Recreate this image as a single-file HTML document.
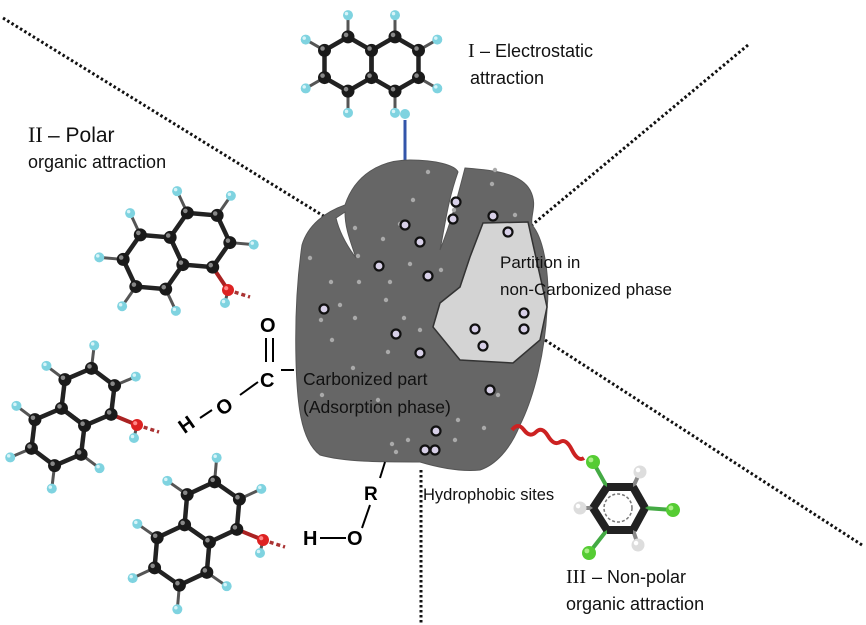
<!DOCTYPE html>
<html><head><meta charset="utf-8"><style>
html,body{margin:0;padding:0;background:#fff;}
svg{display:block;}
.t{font-family:"Liberation Sans",sans-serif;fill:#111;}
.r{font-family:"Liberation Serif",serif;fill:#111;}
.b{font-family:"Liberation Sans",sans-serif;font-weight:bold;fill:#000;}
</style></head><body>
<svg id="s" width="866" height="625" viewBox="0 0 866 625" xmlns="http://www.w3.org/2000/svg">
<g stroke="#111" stroke-width="3" stroke-dasharray="2.5 2.5" fill="none">
<line x1="3" y1="18" x2="330" y2="220"/>
<line x1="748" y1="45" x2="532" y2="225"/>
<line x1="545" y1="340" x2="862" y2="545"/>
<line x1="421" y1="470" x2="421" y2="625"/>
</g>
<line x1="405" y1="120" x2="405" y2="162" stroke="#3355aa" stroke-width="3"/>
<path d="M345,205 C355,175 380,160 410,160 C435,160 455,165 458,172 C448,200 445,225 440,250 C452,220 458,195 465,168 C490,170 520,172 530,190 C538,205 530,215 532,225 C545,240 550,280 547,310 C545,350 535,395 520,425 C510,450 495,465 480,470 C460,472 440,468 420,462 C380,462 345,462 320,455 C300,440 297,400 296,360 C295,320 297,280 302,245 C308,225 325,212 345,205 Z M336,218 C340,235 350,250 356,258 C350,240 345,228 345,212 Z" fill="#666" fill-rule="evenodd" stroke="#555" stroke-width="1"/>
<path d="M483,223 L528,222 L547,307 L540,340 L513,363 L460,360 L433,327 L440,303 L460,287 L470,257 Z" fill="#d4d4d4" stroke="#333" stroke-width="1.5"/>
<g id="dots" fill="#aaa"></g>
<g id="rings" fill="#d8d0e8" stroke="#111" stroke-width="2.2"></g>
<path d="M512,430 q6,-8 12,0 t12,2 t12,4 t12,6 t12,8 t12,8" fill="none" stroke="#cc2222" stroke-width="4"/>
<g id="mol"></g>
<text class="r" x="468" y="57" font-size="20">I</text><text class="t" x="480" y="57" font-size="18">– Electrostatic</text>
<text class="t" x="470" y="84" font-size="18">attraction</text>
<text class="r" x="28" y="142" font-size="22">II</text><text class="t" x="48" y="142" font-size="21">– Polar</text>
<text class="t" x="28" y="168" font-size="18">organic attraction</text>
<text class="t" x="500" y="268" font-size="17">Partition in</text>
<text class="t" x="500" y="295" font-size="17">non-Carbonized phase</text>
<text class="t" x="303" y="385" font-size="17.5">Carbonized part</text>
<text class="t" x="303" y="413" font-size="17.5">(Adsorption phase)</text>
<text class="t" x="423" y="500" font-size="16.5">Hydrophobic sites</text>
<text class="r" x="566" y="583" font-size="20">III</text><text class="t" x="592" y="583" font-size="18">– Non-polar</text>
<text class="t" x="566" y="610" font-size="18">organic attraction</text>
<text class="b" x="260" y="332" font-size="20">O</text>
<line x1="266" y1="338" x2="266" y2="362" stroke="#000" stroke-width="2"/>
<line x1="273" y1="338" x2="273" y2="362" stroke="#000" stroke-width="2"/>
<text class="b" x="260" y="387" font-size="20">C</text>
<line x1="281" y1="370" x2="294" y2="370" stroke="#000" stroke-width="2"/>
<line x1="240" y1="395" x2="258" y2="382" stroke="#000" stroke-width="2"/>
<text class="b" x="216" y="412" font-size="20" transform="rotate(-35 226 405)">O</text>
<line x1="200" y1="418" x2="212" y2="410" stroke="#000" stroke-width="2"/>
<text class="b" x="178" y="430" font-size="20" transform="rotate(-35 188 422)">H</text>
<line x1="385" y1="462" x2="380" y2="478" stroke="#000" stroke-width="2"/>
<text class="b" x="364" y="500" font-size="19">R</text>
<line x1="370" y1="505" x2="362" y2="528" stroke="#000" stroke-width="2"/>
<text class="b" x="347" y="545" font-size="20">O</text>
<line x1="320" y1="538" x2="346" y2="538" stroke="#000" stroke-width="2"/>
<text class="b" x="303" y="545" font-size="20">H</text>
</svg>
<script>
var NS="http://www.w3.org/2000/svg";
function el(p,t,a){var e=document.createElementNS(NS,t);for(var k in a)e.setAttribute(k,a[k]);p.appendChild(e);return e;}
var mol=document.getElementById('mol');
function atom(x,y,r,c,hl){el(mol,'circle',{cx:x,cy:y,r:r,fill:c});el(mol,'circle',{cx:x-r*0.3,cy:y-r*0.3,r:r*0.35,fill:hl});}
function naph(c1,c2,oh){
 var dx=c2[0]-c1[0],dy=c2[1]-c1[1],d=Math.hypot(dx,dy),R=d/Math.sqrt(3),a0=Math.atan2(dy,dx);
 var verts=[],bonds=[];
 [c1,c2].forEach(function(c,i){
  var base=i==0?a0:a0+Math.PI,vs=[];
  for(var k=0;k<6;k++){var a=base+Math.PI/6+k*Math.PI/3;vs.push([c[0]+R*Math.cos(a),c[1]+R*Math.sin(a),c]);}
  for(var k=0;k<6;k++)bonds.push([vs[k],vs[(k+1)%6]]);
  vs.forEach(function(v,k){ if(i==1&&(k==0||k==5))return; verts.push(v);});
 });
 var ohIdx=-1,best=1e9;
 if(oh)verts.forEach(function(v,i){var q=Math.hypot(v[0]-oh[0],v[1]-oh[1]);if(q<best){best=q;ohIdx=i;}});
 var hs=[];
 verts.forEach(function(v,i){
  var cx=v[2][0],cy=v[2][1],ux=v[0]-cx,uy=v[1]-cy,l=Math.hypot(ux,uy);
  var shared=Math.hypot(v[0]-(c1[0]+c2[0])/2,v[1]-(c1[1]+c2[1])/2)<R*0.6;
  if(shared)return;
  if(i==ohIdx){hs.push(['o',v]);return;}
  hs.push(['h',v,[v[0]+ux/l*R*0.8,v[1]+uy/l*R*0.8]]);
 });
 hs.forEach(function(h){ if(h[0]=='h'){el(mol,'line',{x1:h[1][0],y1:h[1][1],x2:h[2][0],y2:h[2][1],stroke:'#555','stroke-width':3});}});
 bonds.forEach(function(b){el(mol,'line',{x1:b[0][0],y1:b[0][1],x2:b[1][0],y2:b[1][1],stroke:'#222','stroke-width':4.5});});
 if(oh){var v=hs.filter(function(h){return h[0]=='o'})[0][1];
  el(mol,'line',{x1:v[0],y1:v[1],x2:oh[0],y2:oh[1],stroke:'#a22','stroke-width':4});
  el(mol,'line',{x1:oh[0],y1:oh[1],x2:oh[0]+22,y2:oh[1]+7,stroke:'#a33','stroke-width':3.5,'stroke-dasharray':'4 3'});
  el(mol,'line',{x1:oh[0],y1:oh[1],x2:oh[0]-3,y2:oh[1]+13,stroke:'#555','stroke-width':3});
  atom(oh[0]-3,oh[1]+13,5,'#7fd3e0','#d8f4f8');
  atom(oh[0],oh[1],6,'#d22','#f88');}
 verts.forEach(function(v){atom(v[0],v[1],6.5,'#1a1a1a','#888');});
 hs.forEach(function(h){if(h[0]=='h')atom(h[2][0],h[2][1],5,'#7fd3e0','#d8f4f8');});
}
naph([348,64],[395,64],null);
el(mol,'circle',{cx:405,cy:114,r:5,fill:'#7fd3e0'});
naph([153,262],[200,240],[228,290]);
naph([58,437],[88,397],[137,425]);
naph([182,555],[212,512],[263,540]);
// benzene
var bc=[618,508],bv=[[607,487],[633,487],[645,508],[633,530],[607,530],[593,508]],sub=[[593,462,'g'],[640,472,'w'],[673,510,'g'],[638,545,'w'],[589,553,'g'],[580,508,'w']];
var sv=[0,1,2,3,4,5];
sub.forEach(function(s,i){var v=bv[[0,1,2,3,4,5][i]];el(mol,'line',{x1:v[0],y1:v[1],x2:s[0],y2:s[1],stroke:s[2]=='g'?'#4a4':'#888','stroke-width':4});});
for(var k=0;k<6;k++){var a=bv[k],b=bv[(k+1)%6];el(mol,'line',{x1:a[0],y1:a[1],x2:b[0],y2:b[1],stroke:'#222','stroke-width':8});}
el(mol,'circle',{cx:bc[0],cy:bc[1],r:14,fill:'none',stroke:'#777','stroke-width':1.5,'stroke-dasharray':'3 2'});
sub.forEach(function(s){if(s[2]=='g')atom(s[0],s[1],7,'#5c3','#ae8');else atom(s[0],s[1],6.5,'#ddd','#fff');});
// dots
var dg=document.getElementById('dots');
[[428,172],[492,184],[413,200],[454,210],[400,224],[355,228],[383,239],[310,258],[358,256],[441,270],[331,282],[359,282],[390,282],[410,264],[340,305],[355,318],[321,320],[386,300],[404,318],[332,340],[388,352],[353,368],[322,395],[378,400],[498,395],[484,428],[408,440],[392,444],[455,440],[495,170],[515,215],[396,452],[458,420],[420,330]].forEach(function(p){el(dg,'circle',{cx:p[0],cy:p[1],r:2.2});});
var rg=document.getElementById('rings');
[[456,202],[453,219],[493,216],[508,232],[405,225],[420,242],[379,266],[428,276],[324,309],[396,334],[420,353],[475,329],[483,346],[524,313],[524,329],[490,390],[436,431],[425,450],[435,450]].forEach(function(p){el(rg,'circle',{cx:p[0],cy:p[1],r:4.5});});
</script>
</body></html>
